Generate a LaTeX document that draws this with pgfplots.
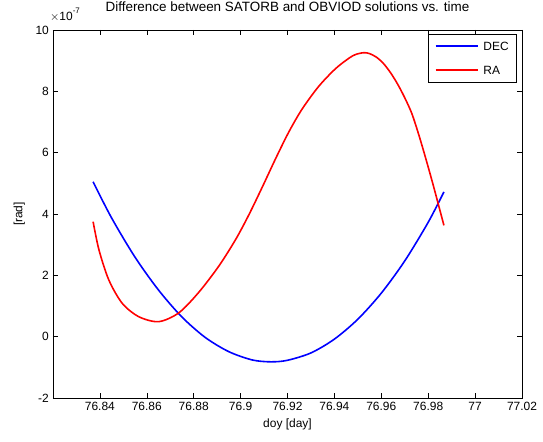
\documentclass[border=0pt]{standalone}
\usepackage{fontspec}
\setmainfont{Liberation Sans}
\usepackage{pgfplots}
\pgfplotsset{compat=1.18}
\begin{document}
\fontsize{12}{14}\selectfont
\begin{tikzpicture}
\useasboundingbox (-53bp,-44bp) rectangle (490bp,398bp);
\begin{axis}[
    scale only axis,
    width=469bp, height=368bp,
    at={(0,0)}, anchor=south west,
    xmin=76.82, xmax=77.02, ymin=-2, ymax=10,
    xtick={76.84,76.86,76.88,76.9,76.92,76.94,76.96,76.98,77,77.02},
    xticklabels={76.84,76.86,76.88,76.9,76.92,76.94,76.96,76.98,77,77.02},
    ytick={-2,0,2,4,6,8,10},
    yticklabels={-2,0,2,4,6,8,10},
    tick align=inside,
    xtick pos=both, ytick pos=both,
    major tick length=5bp,
    every tick/.style={black, line width=0.6pt},
    axis line style={line width=0.6pt},
    ticklabel style={font=\fontsize{12}{14}\selectfont},
    xlabel={doy [day]}, ylabel={[rad]},
    label style={font=\fontsize{12}{14}\selectfont},
    xlabel style={at={(axis description cs:0.5,0)}, anchor=north, yshift=-17bp},
    ylabel style={at={(axis description cs:0,0.5)}, anchor=south, yshift=24bp},
    title={Difference between SATORB and OBVIOD solutions vs. time},
    title style={font=\fontsize{13.5}{16}\selectfont, at={(axis description cs:0.5,1)}, anchor=south, yshift=8bp},
    clip=false,
]
% DEC difference (units of 1e-7 rad)
\addplot[color=blue, line width=1.6pt, smooth] table {
x y
76.8371 5.05
76.845 3.87
76.855 2.59
76.865 1.52
76.875 0.64
76.885 -0.03
76.895 -0.49
76.905 -0.76
76.913 -0.82
76.920 -0.77
76.930 -0.53
76.940 -0.08
76.950 0.57
76.960 1.42
76.970 2.47
76.980 3.73
76.9867 4.72
};
% RA difference (units of 1e-7 rad)
\addplot[color=red, line width=1.6pt, smooth] table {
x y
76.8371 3.75
76.8396 2.83
76.8438 1.85
76.8495 1.09
76.8566 0.65
76.8651 0.49
76.8737 0.78
76.8822 1.45
76.8907 2.30
76.8979 3.17
76.9035 3.97
76.9092 4.87
76.9149 5.80
76.9206 6.68
76.9263 7.43
76.9334 8.17
76.9405 8.74
76.9462 9.08
76.9490 9.20
76.9525 9.26
76.9550 9.23
76.9580 9.11
76.9610 8.90
76.9640 8.60
76.9670 8.23
76.9700 7.79
76.9730 7.28
76.9760 6.58
76.9790 5.80
76.9820 4.98
76.9850 4.12
76.9867 3.63
};
\end{axis}
% scale factor of the y axis
\node[anchor=south west, inner sep=0pt, font=\fontsize{12}{14}\selectfont]
    at (-3bp,376bp) {$\times$10\raisebox{7bp}{\fontsize{8}{9}\selectfont -7}};
% legend
\node[anchor=north east, draw=black, line width=0.6pt, fill=white, inner sep=0pt,
      font=\fontsize{12}{14}\selectfont] at (464bp,364bp) {%
  \begin{tabular}{@{\hspace{7bp}}l@{\hspace{5bp}}l@{\hspace{8bp}}}
    \rule[-8bp]{0pt}{24bp}\tikz[baseline=-4.3bp]\draw[blue, line width=1.6pt] (0bp,0bp) -- (42bp,0bp); & DEC \\
    \rule[-8bp]{0pt}{24bp}\tikz[baseline=-4.3bp]\draw[red, line width=1.6pt] (0bp,0bp) -- (42bp,0bp); & RA
  \end{tabular}};
\end{tikzpicture}
\end{document}
